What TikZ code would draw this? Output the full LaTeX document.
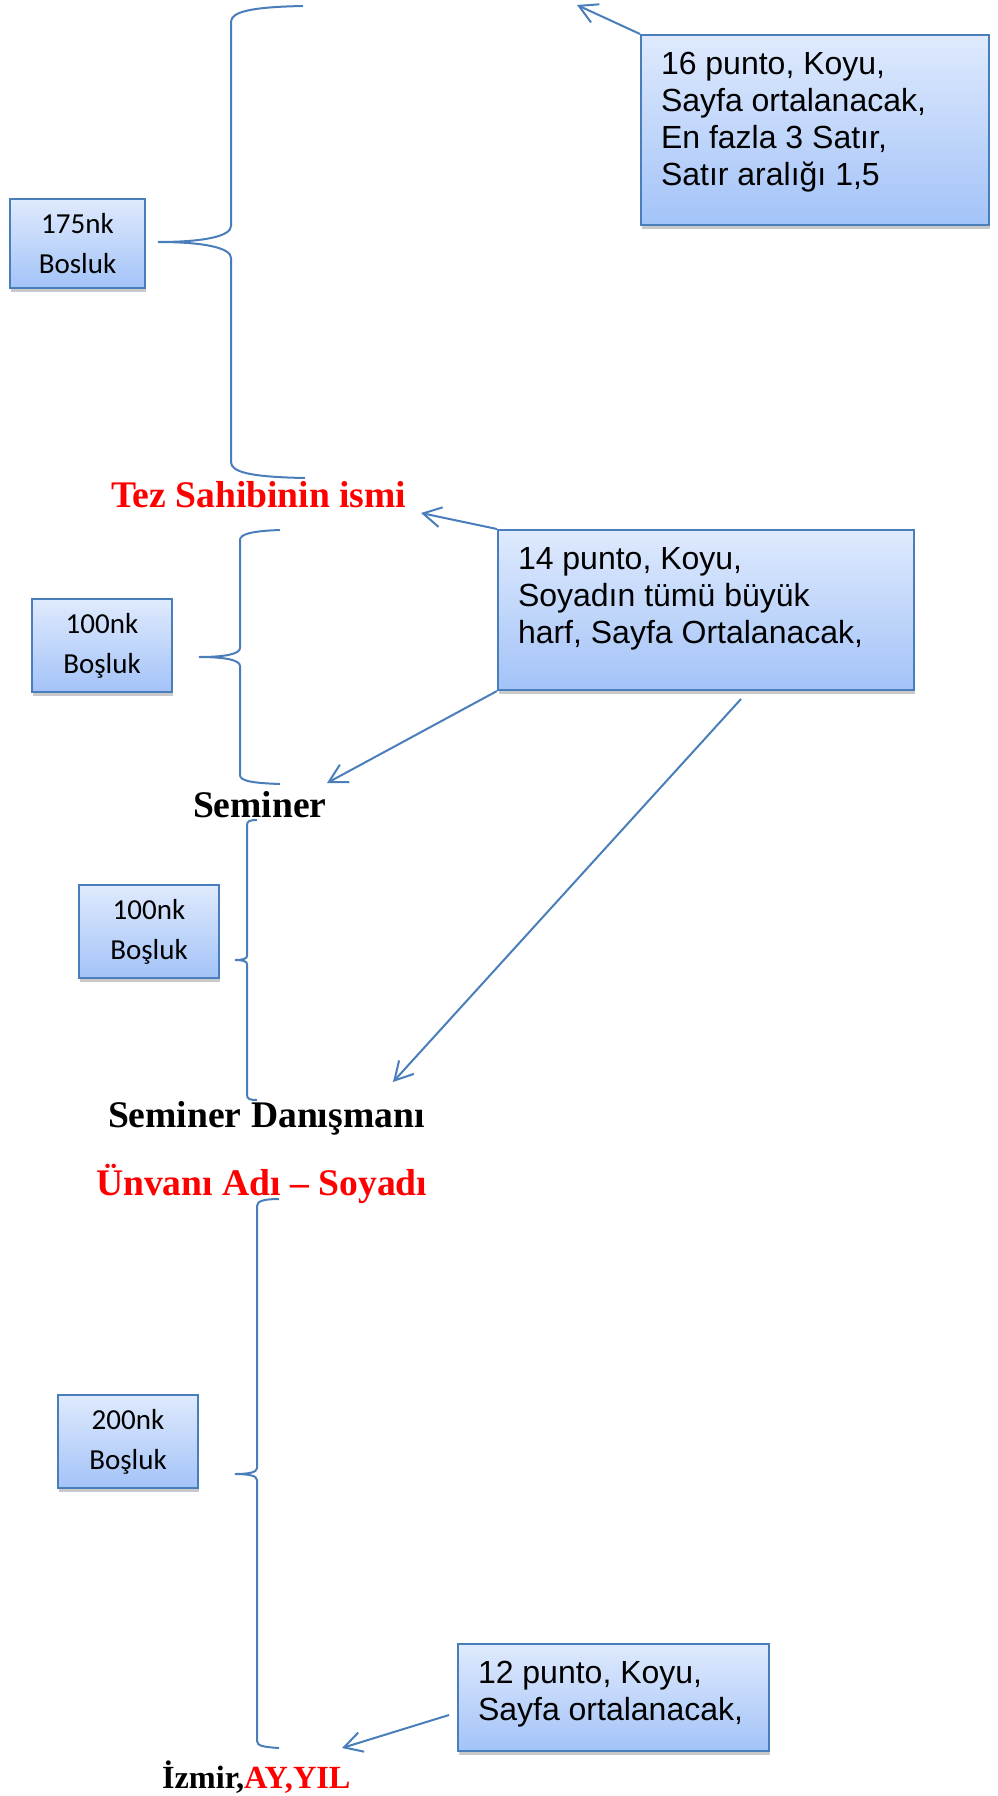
\documentclass[tikz,border=0pt]{standalone}
\usepackage{fontspec}
\setmainfont{Liberation Serif}
\newfontfamily\arialyazi{Liberation Sans}
\newfontfamily\calibriyazi{Carlito}
\tikzset{
every picture/.style={
line width=2pt
}}
\usepackage{tikz}
\usetikzlibrary{arrows.meta,shadows}
\definecolor{cizgi}{HTML}{4A7EBB}
\definecolor{kutuust}{HTML}{DFEAFD}
\definecolor{kutualt}{HTML}{A3C3F8}

\begin{document}
\begin{tikzpicture}[x=1pt, y=-1pt,
kutu/.style = {rectangle, draw=cizgi, top color=kutuust, bottom color=kutualt, anchor=north west,
  drop shadow={shadow xshift=1pt, shadow yshift=-4pt, opacity=0.3, fill=black!70}},
notkutu/.style = {kutu, inner xsep=20pt, inner ysep=17pt, font=\arialyazi\fontsize{32}{37}\selectfont},
boskutu/.style = {kutu, inner sep=0pt, minimum width=140pt, minimum height=93pt, align=center,
  font=\calibriyazi\fontsize{29}{40}\selectfont},
yazi/.style = {anchor=base west, inner sep=0pt, font=\bfseries\fontsize{37.6}{45}\selectfont},
kume/.style = {draw=cizgi},
ok/.style = {draw=cizgi, -{Straight Barb[length=18pt,width=20pt]}}]

\useasboundingbox (0,0) rectangle (998,1796);

% notlar
\node[notkutu] (not16) at (640,34) {\parbox[c][156pt][t]{308pt}{16 punto, Koyu,\\Sayfa ortalanacak,\\En fazla 3 Satır,\\Satır aralığı 1,5}};
\node[notkutu] (not14) at (497,529) {\parbox[c][126pt][t]{376pt}{14 punto, Koyu,\\Soyadın tümü büyük\\harf, Sayfa Ortalanacak,}};
\node[notkutu] (not12) at (457,1643) {\parbox[c][73pt][t]{271pt}{12 punto, Koyu,\\Sayfa ortalanacak,}};

% bosluk kutulari
\node[boskutu, minimum width=135pt, minimum height=89pt] (bos175) at (9,198) {175nk\\Bosluk};
\node[boskutu] (bos100a) at (31,598) {100nk\\Boşluk};
\node[boskutu] (bos100b) at (78,884) {100nk\\Boşluk};
\node[boskutu] (bos200) at (57,1394) {200nk\\Boşluk};

% sayfa yazilari
\node[yazi, text=red] (tez) at (110,507) {Tez Sahibinin ismi};
\node[yazi] (seminer) at (192,817) {Seminer};
\node[yazi] (danisman) at (107,1127) {Seminer Danışmanı};
\node[yazi, text=red] (unvan) at (95,1195) {Ünvanı Adı – Soyadı};
\node[yazi, font=\bfseries\fontsize{32.3}{39}\selectfont] (izmir) at (161,1788) {İzmir,\textcolor{red}{AY,YIL}};

% oklar
\coordinate (baslikuc) at (577,5);
\coordinate (tezuc) at (421,513);
\coordinate (seminuc) at (327,783);
\coordinate (okbas) at (741,699);
\coordinate (danuc) at (393,1082);
\coordinate (notbas) at (449,1715);
\coordinate (izmiruc) at (342,1748);
\draw[ok] (not16.north west) -- (baslikuc);
\draw[ok] (not14.north west) -- (tezuc);
\draw[ok] (not14.south west) -- (seminuc);
\draw[ok] (okbas) -- (danuc);
\draw[ok] (notbas) -- (izmiruc);

% kume parantezleri
\draw[kume] (303,6) .. controls (250,7) and (231,12) .. (231,22) -- (231,226)
  .. controls (231,236) and (205,242) .. (158,242) .. controls (205,242) and (231,248) .. (231,258)
  -- (231,462) .. controls (231,472) and (250,477) .. (305,478);
\draw[kume] (280,530) .. controls (252,531) and (240,534) .. (240,540) -- (240,648)
  .. controls (240,654) and (225,657) .. (199,657) .. controls (225,657) and (240,660) .. (240,666)
  -- (240,775) .. controls (240,781) and (252,783) .. (280,784);
\draw[kume] (257,820) .. controls (250,820) and (247,821) .. (247,825) -- (247,956)
  .. controls (247,959) and (242,960) .. (235,960) .. controls (242,960) and (247,961) .. (247,964)
  -- (247,1095) .. controls (247,1099) and (250,1100) .. (257,1100);
\draw[kume] (279,1199) .. controls (264,1199) and (257,1201) .. (257,1206) -- (257,1468)
  .. controls (257,1472) and (250,1474) .. (235,1474) .. controls (250,1474) and (257,1476) .. (257,1480)
  -- (257,1741) .. controls (257,1746) and (264,1747) .. (279,1748);
\end{tikzpicture}
\end{document}
